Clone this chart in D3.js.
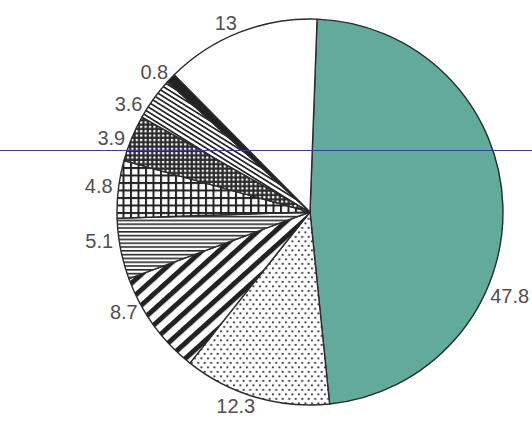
<!DOCTYPE html>
<html>
<head>
<meta charset="utf-8">
<script src="https://cdn.jsdelivr.net/npm/d3@7"></script>
<style>
  html, body { margin: 0; padding: 0; background: #fff; }
  svg { display: block; }
</style>
</head>
<body>
<svg id="chart" width="532" height="425"></svg>
<script>
// Shares (%) in clockwise order from the top
const labels = ["47.8", "12.3", "8.7", "5.1", "4.8", "3.9", "3.6", "0.8", "13"];
const values = [47.8, 12.3, 8.7, 5.1, 4.8, 3.9, 3.6, 0.8, 13];
const fills = ["teal", "dots", "stripes", "hlines", "grid", "finegrid", "diag", "solid", "white"];

const W = 532, H = 425;
const cx = 310, cy = 212, R = 193;
const rad = d => d * Math.PI / 180;
const start = rad(2.1);
// where along each slice its label sits (0 = leading edge, 1 = trailing edge)
const labelAt = [0.65, 0.58, 0.72, 0.66, 0.52, 0.4, 0.16, 0.2, 0.45];
const labelGap = 6;

const svg = d3.select("#chart");
const defs = svg.append("defs");

// fill patterns
function pattern(id, w, h, transform) {
  const p = defs.append("pattern").attr("id", id)
    .attr("patternUnits", "userSpaceOnUse")
    .attr("width", w).attr("height", h);
  if (transform) p.attr("patternTransform", transform);
  return p;
}
let p;
p = pattern("dots", 6.5, 9);
p.append("rect").attr("width", 6.5).attr("height", 9).attr("fill", "#fff");
p.append("rect").attr("x", 1).attr("y", 1.4).attr("width", 1.9).attr("height", 1.9).attr("fill", "#3a3a3a");
p.append("rect").attr("x", 4.25).attr("y", 5.9).attr("width", 1.9).attr("height", 1.9).attr("fill", "#3a3a3a");

p = pattern("stripes", 12, 11.5, "rotate(-42)");
p.append("rect").attr("width", 12).attr("height", 11.5).attr("fill", "#fff");
p.append("rect").attr("width", 12).attr("height", 5).attr("fill", "#222");

p = pattern("hlines", 8, 3.8);
p.append("rect").attr("width", 8).attr("height", 3.8).attr("fill", "#fff");
p.append("rect").attr("width", 8).attr("height", 1.6).attr("fill", "#2a2a2a");

p = pattern("grid", 7.5, 7.5);
p.append("rect").attr("width", 7.5).attr("height", 7.5).attr("fill", "#fff");
p.append("rect").attr("width", 2).attr("height", 7.5).attr("fill", "#222");
p.append("rect").attr("width", 7.5).attr("height", 2).attr("fill", "#222");

p = pattern("finegrid", 4.4, 4.4);
p.append("rect").attr("width", 4.4).attr("height", 4.4).attr("fill", "#2a2a2a");
p.append("rect").attr("x", 1.7).attr("y", 1.7).attr("width", 2.2).attr("height", 2.2).attr("fill", "#fff");

p = pattern("diag", 8, 4.2, "rotate(32)");
p.append("rect").attr("width", 8).attr("height", 4.2).attr("fill", "#fff");
p.append("rect").attr("width", 8).attr("height", 1.7).attr("fill", "#262626");

const fillOf = {
  teal: "#62ab9c",
  dots: "url(#dots)",
  stripes: "url(#stripes)",
  hlines: "url(#hlines)",
  grid: "url(#grid)",
  finegrid: "url(#finegrid)",
  diag: "url(#diag)",
  solid: "#222",
  white: "#fff"
};

const pie = d3.pie().sort(null).startAngle(start).endAngle(start + 2 * Math.PI);
const arcs = pie(values);
const arc = d3.arc().innerRadius(0).outerRadius(R);

const g = svg.append("g").attr("transform", `translate(${cx},${cy})`);
g.selectAll("path.slice").data(arcs).join("path")
  .attr("class", "slice")
  .attr("d", arc)
  .attr("fill", (d, i) => fillOf[fills[i]])
  .attr("stroke", "#2b2b2b")
  .attr("stroke-width", 1.4)
  .attr("stroke-linejoin", "round");

// value labels just outside the rim, pushed out by their own half size
g.selectAll("text.val").data(arcs).join("text")
  .attr("class", "val")
  .attr("text-anchor", "middle")
  .attr("dominant-baseline", "central")
  .attr("font-family", "'Liberation Sans Narrow', 'Liberation Sans', sans-serif")
  .attr("font-size", 20)
  .attr("fill", "#505050")
  .text((d, i) => labels[i])
  .each(function (d, i) {
    const a = d.startAngle + labelAt[i] * (d.endAngle - d.startAngle);
    const bb = this.getBBox();
    const hw = bb.width / 2, hh = 7;
    const s = Math.sin(a), c = -Math.cos(a);
    const r0 = R + labelGap;
    d3.select(this)
      .attr("x", r0 * s + hw * s)
      .attr("y", r0 * c + hh * c);
  });

// thin rule across the page
svg.append("line")
  .attr("x1", 0).attr("x2", W)
  .attr("y1", 150.5).attr("y2", 150.5)
  .attr("stroke", "#3c418c")
  .attr("stroke-width", 1);
</script>
</body>
</html>
